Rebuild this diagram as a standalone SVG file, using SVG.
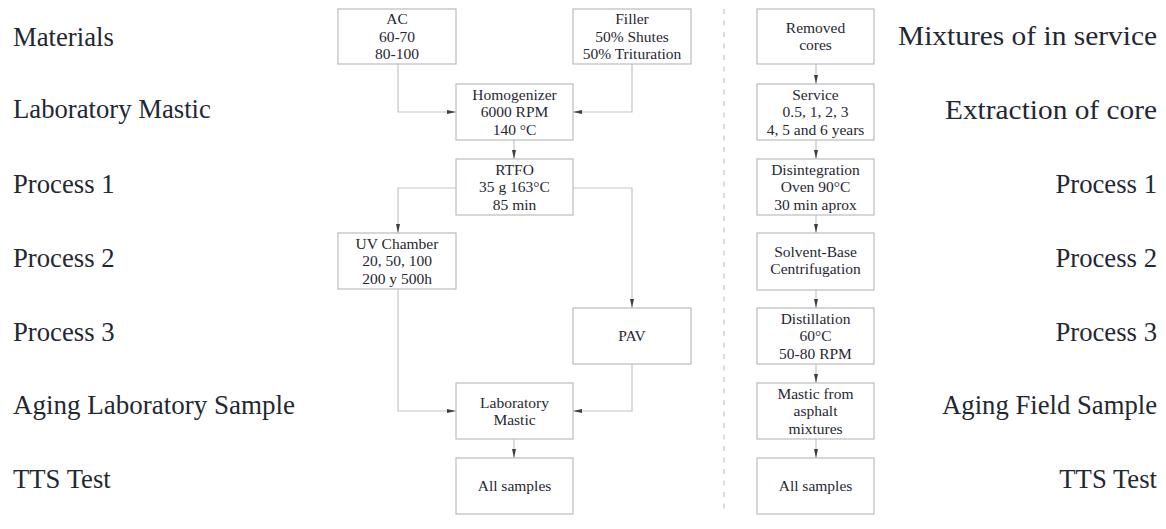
<svg xmlns="http://www.w3.org/2000/svg" width="1166" height="529" viewBox="0 0 1166 529">
<defs>
<style>
.box{fill:#fff;stroke:#b9bcbf;stroke-width:1.2}
.t{font-family:'Liberation Serif',Tinos,'Times New Roman',Times,'DejaVu Serif',serif;font-size:15.5px;fill:#1f2833;text-anchor:middle}
.lbl{font-family:'Liberation Serif',Tinos,'Times New Roman',Times,'DejaVu Serif',serif;font-size:26.7px;fill:#1f2833}
.r{text-anchor:end}
.c{fill:none;stroke:#c2c5c8;stroke-width:1.2}
.dash{fill:none;stroke:#cfd1d3;stroke-width:1.5;stroke-dasharray:5 6.5}
</style>
<marker id="ah" markerWidth="10" markerHeight="6" refX="9" refY="2.5" orient="auto" markerUnits="userSpaceOnUse">
<path d="M0,0.5 L9,2.5 L0,4.5 z" fill="#3a3f45"/>
</marker>
</defs>
<rect width="1166" height="529" fill="#fff"/>

<g id="labels-left">
<text class="lbl" x="13" y="46">Materials</text>
<text class="lbl" x="13" y="118">Laboratory Mastic</text>
<text class="lbl" x="13" y="193">Process 1</text>
<text class="lbl" x="13" y="267">Process 2</text>
<text class="lbl" x="13" y="341">Process 3</text>
<text class="lbl" x="13" y="414" textLength="282" lengthAdjust="spacingAndGlyphs">Aging Laboratory Sample</text>
<text class="lbl" x="13" y="488">TTS Test</text>
</g>
<g id="labels-right">
<text class="lbl" x="898" y="45" textLength="259" lengthAdjust="spacingAndGlyphs">Mixtures of in service</text>
<text class="lbl" x="945" y="119" textLength="212" lengthAdjust="spacingAndGlyphs">Extraction of core</text>
<text class="lbl r" x="1157" y="193">Process 1</text>
<text class="lbl r" x="1157" y="267">Process 2</text>
<text class="lbl r" x="1157" y="341">Process 3</text>
<text class="lbl r" x="1157" y="414">Aging Field Sample</text>
<text class="lbl r" x="1157" y="488">TTS Test</text>
</g>

<g id="divider">
<line class="dash" x1="724" y1="9" x2="724" y2="514"/>
</g>

<g id="connectors">
<path class="c" d="M398,64 V112 H456" marker-end="url(#ah)"/>
<path class="c" d="M632,64 V112 H573" marker-end="url(#ah)"/>
<path class="c" d="M514,140 V159" marker-end="url(#ah)"/>
<path class="c" d="M456,188 H398 V233" marker-end="url(#ah)"/>
<path class="c" d="M573,188 H632 V308" marker-end="url(#ah)"/>
<path class="c" d="M398,289 V411 H456" marker-end="url(#ah)"/>
<path class="c" d="M632,364 V411 H573" marker-end="url(#ah)"/>
<path class="c" d="M514,439 V458" marker-end="url(#ah)"/>
<path class="c" d="M816,64 V84" marker-end="url(#ah)"/>
<path class="c" d="M816,140 V159" marker-end="url(#ah)"/>
<path class="c" d="M816,215 V233" marker-end="url(#ah)"/>
<path class="c" d="M816,290 V308" marker-end="url(#ah)"/>
<path class="c" d="M816,364 V383" marker-end="url(#ah)"/>
<path class="c" d="M816,439 V458" marker-end="url(#ah)"/>
</g>

<g id="ac">
<rect class="box" x="338" y="9" width="118" height="55"/>
<text class="t" x="397" y="24">AC</text>
<text class="t" x="397" y="41.5">60-70</text>
<text class="t" x="397" y="59">80-100</text>
</g>
<g id="filler">
<rect class="box" x="573" y="9" width="118" height="55"/>
<text class="t" x="632" y="24">Filler</text>
<text class="t" x="632" y="41.5">50% Shutes</text>
<text class="t" x="632" y="59">50% Trituration</text>
</g>
<g id="homogenizer">
<rect class="box" x="456" y="84" width="117" height="56"/>
<text class="t" x="514.5" y="99.5">Homogenizer</text>
<text class="t" x="514.5" y="117">6000 RPM</text>
<text class="t" x="514.5" y="134.5">140 °C</text>
</g>
<g id="rtfo">
<rect class="box" x="456" y="159" width="117" height="56"/>
<text class="t" x="514.5" y="174.5">RTFO</text>
<text class="t" x="514.5" y="192">35 g 163°C</text>
<text class="t" x="514.5" y="209.5">85 min</text>
</g>
<g id="uv">
<rect class="box" x="338" y="233" width="118" height="56"/>
<text class="t" x="397" y="248.5">UV Chamber</text>
<text class="t" x="397" y="266">20, 50, 100</text>
<text class="t" x="397" y="283.5">200 y 500h</text>
</g>
<g id="pav">
<rect class="box" x="573" y="308" width="118" height="56"/>
<text class="t" x="632" y="341">PAV</text>
</g>
<g id="lab-mastic">
<rect class="box" x="456" y="383" width="117" height="56"/>
<text class="t" x="514.5" y="407.5">Laboratory</text>
<text class="t" x="514.5" y="424.5">Mastic</text>
</g>
<g id="all-left">
<rect class="box" x="456" y="458" width="117" height="56"/>
<text class="t" x="514.5" y="490.5">All samples</text>
</g>

<g id="removed">
<rect class="box" x="757" y="9" width="117" height="55"/>
<text class="t" x="815.5" y="33">Removed</text>
<text class="t" x="815.5" y="50">cores</text>
</g>
<g id="service">
<rect class="box" x="757" y="84" width="117" height="56"/>
<text class="t" x="815.5" y="99.5">Service</text>
<text class="t" x="815.5" y="117">0.5, 1, 2, 3</text>
<text class="t" x="815.5" y="134.5">4, 5 and 6 years</text>
</g>
<g id="disintegration">
<rect class="box" x="757" y="159" width="117" height="56"/>
<text class="t" x="815.5" y="174.5">Disintegration</text>
<text class="t" x="815.5" y="192">Oven 90°C</text>
<text class="t" x="815.5" y="209.5">30 min aprox</text>
</g>
<g id="solvent">
<rect class="box" x="757" y="233" width="117" height="57"/>
<text class="t" x="815.5" y="257">Solvent-Base</text>
<text class="t" x="815.5" y="274">Centrifugation</text>
</g>
<g id="distillation">
<rect class="box" x="757" y="308" width="117" height="56"/>
<text class="t" x="815.5" y="323.5">Distillation</text>
<text class="t" x="815.5" y="341">60°C</text>
<text class="t" x="815.5" y="358.5">50-80 RPM</text>
</g>
<g id="mastic-field">
<rect class="box" x="757" y="383" width="117" height="56"/>
<text class="t" x="815.5" y="398.5">Mastic from</text>
<text class="t" x="815.5" y="416">asphalt</text>
<text class="t" x="815.5" y="433.5">mixtures</text>
</g>
<g id="all-right">
<rect class="box" x="757" y="458" width="117" height="56"/>
<text class="t" x="815.5" y="490.5">All samples</text>
</g>
</svg>
